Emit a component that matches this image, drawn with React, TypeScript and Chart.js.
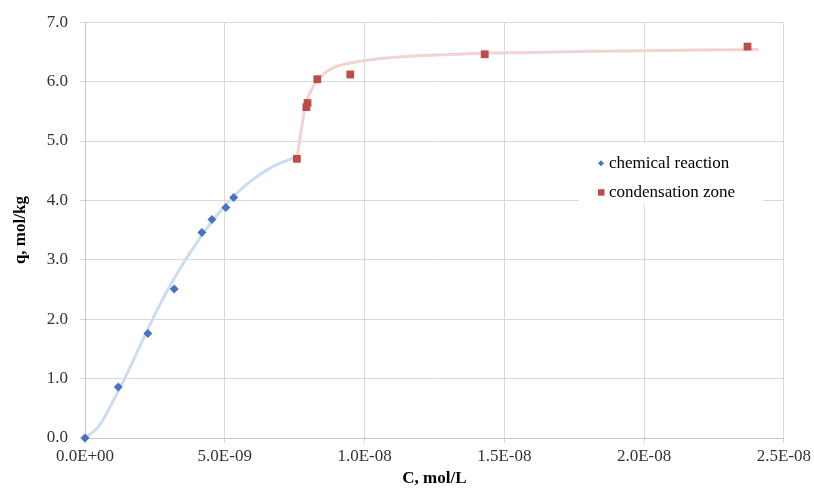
import React, { useEffect, useRef } from "react";
import { Chart, registerables } from "chart.js";

Chart.register(...registerables);

// Measured points
const chemC = [0, 1.19e-9, 2.25e-9, 3.19e-9, 4.18e-9, 4.54e-9, 5.04e-9, 5.32e-9];
const chemQ = [0, 0.86, 1.76, 2.51, 3.46, 3.68, 3.88, 4.05];
const condC = [7.58e-9, 7.92e-9, 7.96e-9, 8.31e-9, 9.49e-9, 1.43e-8, 2.37e-8];
const condQ = [4.7, 5.57, 5.64, 6.04, 6.12, 6.46, 6.59];

// Trend curves
const chemTrendC = [0, 0.5e-9, 1.0e-9, 1.5e-9, 2.0e-9, 2.5e-9, 3.0e-9, 3.5e-9, 4.0e-9, 4.5e-9, 5.0e-9, 5.5e-9, 6.0e-9, 6.5e-9, 7.0e-9, 7.5e-9, 7.7e-9];
const chemTrendQ = [0, 0.2, 0.62, 1.08, 1.58, 2.08, 2.53, 2.93, 3.29, 3.62, 3.9, 4.15, 4.35, 4.51, 4.63, 4.72, 4.75];
const condTrendC = [7.58e-9, 7.74e-9, 7.89e-9, 8.1e-9, 8.39e-9, 8.87e-9, 9.46e-9, 1.006e-8, 1.089e-8, 1.208e-8, 1.327e-8, 1.434e-8, 1.6e-8, 1.8e-8, 2.0e-8, 2.2e-8, 2.41e-8];
const condTrendQ = [4.71, 5.19, 5.61, 5.86, 6.06, 6.23, 6.31, 6.36, 6.4, 6.44, 6.46, 6.48, 6.49, 6.51, 6.52, 6.53, 6.54];

const legendLabels = ["chemical reaction", "condensation zone"];
const xTitle = "C, mol/L";
const yTitle = "q, mol/kg";

const BLUE = "#4674C1";
const RED = "#BE4B48";
const FONT = "Liberation Serif";

function sci(v: number): string {
  if (Math.abs(v) < 1e-20) return "0.0E+00";
  const [m, e] = v.toExponential(1).split("e");
  const n = parseInt(e, 10);
  return `${m}E${n < 0 ? "-" : "+"}${String(Math.abs(n)).padStart(2, "0")}`;
}

const toPts = (xs: number[], ys: number[]) => xs.map((x, i) => ({ x, y: ys[i] }));

const boxLegend = {
  id: "boxLegend",
  beforeDatasetsDraw(chart: any) {
    const ctx = chart.ctx as CanvasRenderingContext2D;
    const a = chart.chartArea;
    const x0 = a.left + 494;
    const y0 = a.top + 121;
    ctx.save();
    ctx.fillStyle = "#ffffff";
    ctx.fillRect(x0, y0, 184, 62);
    const mx = x0 + 22;
    const r1 = y0 + 20;
    const r2 = y0 + 49;
    // diamond
    ctx.fillStyle = BLUE;
    ctx.beginPath();
    ctx.moveTo(mx, r1 - 3);
    ctx.lineTo(mx + 3, r1);
    ctx.lineTo(mx, r1 + 3);
    ctx.lineTo(mx - 3, r1);
    ctx.closePath();
    ctx.fill();
    // square
    ctx.fillStyle = RED;
    ctx.fillRect(mx - 3, r2 - 3, 6.5, 6.5);
    ctx.fillStyle = "#000";
    ctx.font = `17px "${FONT}"`;
    ctx.textBaseline = "middle";
    ctx.textAlign = "left";
    ctx.fillText(legendLabels[0], x0 + 30, r1);
    ctx.fillText(legendLabels[1], x0 + 30, r2);
    ctx.restore();
  },
};

export default function App() {
  const ref = useRef<HTMLCanvasElement | null>(null);
  useEffect(() => {
    if (!ref.current) return;
    const gridColor = "#d9d9d9";
    const chart = new Chart(ref.current, {
      type: "scatter",
      data: {
        datasets: [
          {
            label: legendLabels[0],
            data: toPts(chemC, chemQ),
            pointStyle: "rectRot",
            pointRadius: 4.5,
            backgroundColor: BLUE,
            borderColor: BLUE,
            borderWidth: 0,
            clip: false,
            order: 0,
          } as any,
          {
            label: legendLabels[1],
            data: toPts(condC, condQ),
            pointStyle: "rect",
            pointRadius: 5.5,
            backgroundColor: RED,
            borderColor: RED,
            borderWidth: 0,
            clip: false,
            order: 0,
          } as any,
          {
            label: "chem trend",
            data: toPts(chemTrendC, chemTrendQ),
            showLine: true,
            pointRadius: 0,
            borderColor: "#cddcf0",
            borderWidth: 3,
            cubicInterpolationMode: "monotone",
            order: 2,
          } as any,
          {
            label: "cond trend",
            data: toPts(condTrendC, condTrendQ),
            showLine: true,
            pointRadius: 0,
            borderColor: "#f2d3d2",
            borderWidth: 3,
            cubicInterpolationMode: "monotone",
            order: 2,
          } as any,
        ],
      },
      options: {
        animation: false,
        responsive: false,
        maintainAspectRatio: false,
        layout: { padding: { top: 22, right: 29, left: 0, bottom: 0 } },
        plugins: { legend: { display: false }, tooltip: { enabled: false } },
        scales: {
          x: {
            type: "linear",
            min: 0,
            max: 2.5e-8,
            ticks: {
              stepSize: 5e-9,
              autoSkip: false,
              maxRotation: 0,
              padding: 3,
              color: "#333",
              font: { family: FONT, size: 17 },
              callback: (v: any) => sci(Number(v)),
            },
            grid: { color: gridColor, tickLength: 5 },
            border: { color: "#c8c8c8" },
            title: {
              display: true,
              text: xTitle,
              color: "#000",
              font: { family: FONT, size: 17, weight: "bold" },
              padding: { top: 0, bottom: 0 },
            },
            afterFit: (s: any) => {
              s.height = 51;
            },
          },
          y: {
            type: "linear",
            min: 0,
            max: 7,
            ticks: {
              stepSize: 1,
              padding: 12,
              color: "#333",
              font: { family: FONT, size: 17 },
              callback: (v: any) => Number(v).toFixed(1),
            },
            grid: { color: gridColor, tickLength: 5 },
            border: { color: "#c8c8c8" },
            title: {
              display: true,
              text: yTitle,
              color: "#000",
              font: { family: FONT, size: 17, weight: "bold" },
              padding: { top: 10, bottom: 0 },
            },
            afterFit: (s: any) => {
              s.width = 85;
            },
          },
        },
      } as any,
      plugins: [boxLegend],
    });
    return () => chart.destroy();
  }, []);
  return (
    <div style={{ position: "fixed", left: 0, top: 0, width: 814, height: 489, background: "#fff" }}>
      <canvas ref={ref} width={814} height={489} style={{ display: "block" }} />
    </div>
  );
}
